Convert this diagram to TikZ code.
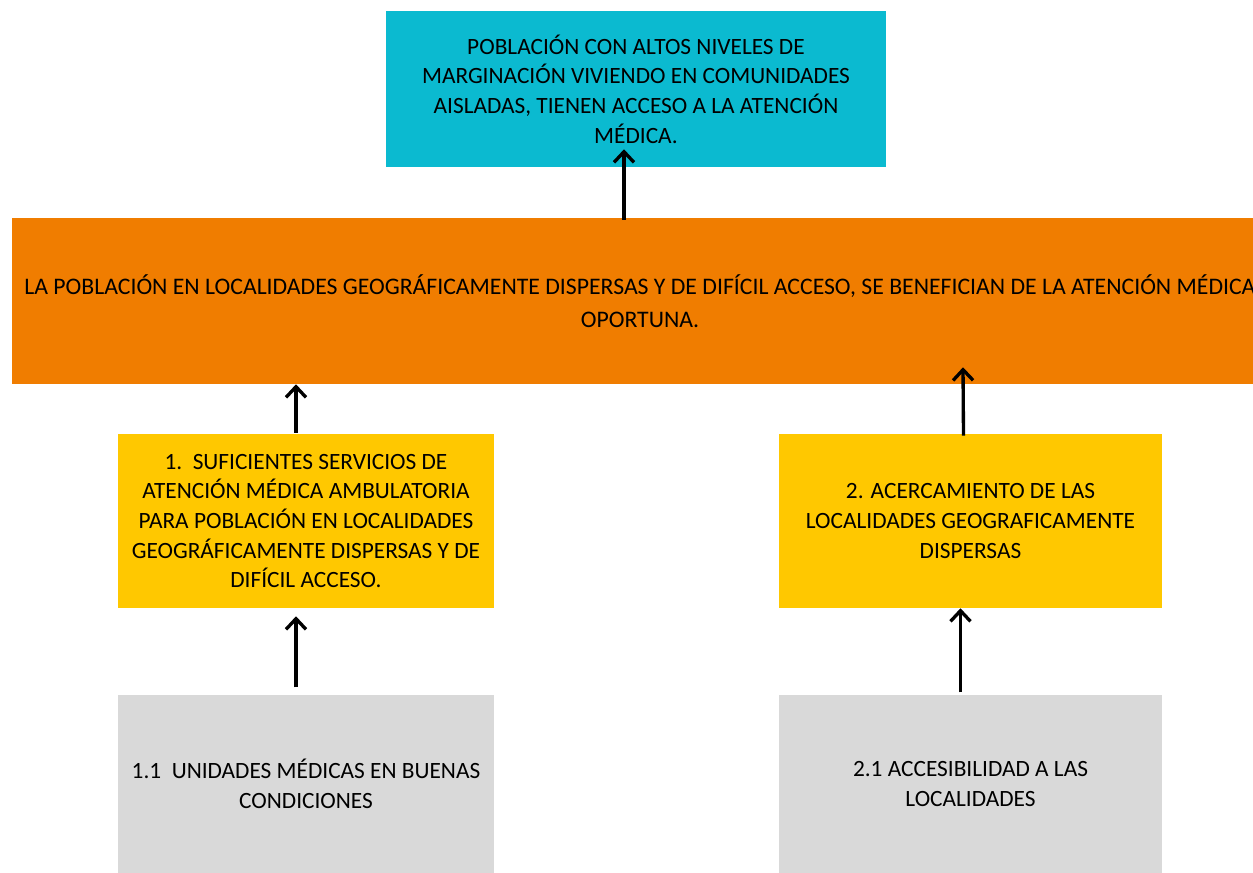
\documentclass[tikz,border=0pt]{standalone}
\usepackage{fontspec}
\setmainfont{Carlito}
\usetikzlibrary{positioning,arrows.meta,calc}
\definecolor{tealbox}{RGB}{11,186,208}
\definecolor{orangebox}{RGB}{240,125,0}
\definecolor{yellowbox}{RGB}{255,200,0}
\definecolor{graybox}{RGB}{217,217,217}
\tikzset{
  box/.style={rectangle,inner sep=0pt,align=center,font=\fontsize{17.5}{22.3}\selectfont},
  goal/.style={box,fill=tealbox,minimum width=375pt,minimum height=117pt},
  purpose/.style={box,fill=orangebox,minimum width=942pt,minimum height=124.5pt,font=\fontsize{17.8}{24.75}\selectfont},
  comp/.style={box,fill=yellowbox,minimum height=130.5pt},
  act/.style={box,fill=graybox,minimum height=134.25pt},
  arr/.style={-{Straight Barb[length=8pt,width=15pt]},line width=2.5pt}
}

\begin{document}
\begin{tikzpicture}[x=0.75pt,y=-0.75pt,node distance=64.5pt]
\useasboundingbox (0,0) rectangle (1253,873);

\node[goal] (fin) at (636,89) {
POBLACIÓN CON ALTOS NIVELES DE\\
MARGINACIÓN VIVIENDO EN COMUNIDADES\\
AISLADAS, TIENEN ACCESO A LA ATENCIÓN\\
MÉDICA.
};

\node[purpose] (prop) at (640,301) {
LA POBLACIÓN EN LOCALIDADES GEOGRÁFICAMENTE DISPERSAS Y DE DIFÍCIL ACCESO, SE BENEFICIAN DE LA ATENCIÓN MÉDICA\\
OPORTUNA.
};

\node[comp,minimum width=282pt] (comp1) at (306,521) {
1.\ \ SUFICIENTES SERVICIOS DE\\
ATENCIÓN MÉDICA AMBULATORIA\\
PARA POBLACIÓN EN LOCALIDADES\\
GEOGRÁFICAMENTE DISPERSAS Y DE\\
DIFÍCIL ACCESO.
};

\node[comp,minimum width=287.25pt] (comp2) at (970.5,521) {
2. ACERCAMIENTO DE LAS\\
LOCALIDADES GEOGRAFICAMENTE\\
DISPERSAS
};

\node[act,minimum width=282pt,below=of comp1] (act1) {
1.1\ \ UNIDADES MÉDICAS EN BUENAS\\
CONDICIONES
};

\node[act,minimum width=287.25pt,below=of comp2] (act2) {
2.1 ACCESIBILIDAD A LAS\\
LOCALIDADES
};

% upward arrows
\draw[arr] ($(prop.north)+(-16,2)$) -- ($(fin.south)+(-12,-18)$);
\draw[arr] ($(comp1.north)+(-10,-1)$) -- ($(prop.south)+(-344,0)$);
\draw[arr] ($(comp2.north)+(-7,2)$) -- ($(prop.south)+(323,-17)$);
\draw[arr] ($(act1.north)+(-10,-7)$) -- ($(comp1.south)+(-10,8)$);
\draw[arr] ($(act2.north)+(-10,-2)$) -- ($(comp2.south)+(-10,0)$);
\end{tikzpicture}
\end{document}
